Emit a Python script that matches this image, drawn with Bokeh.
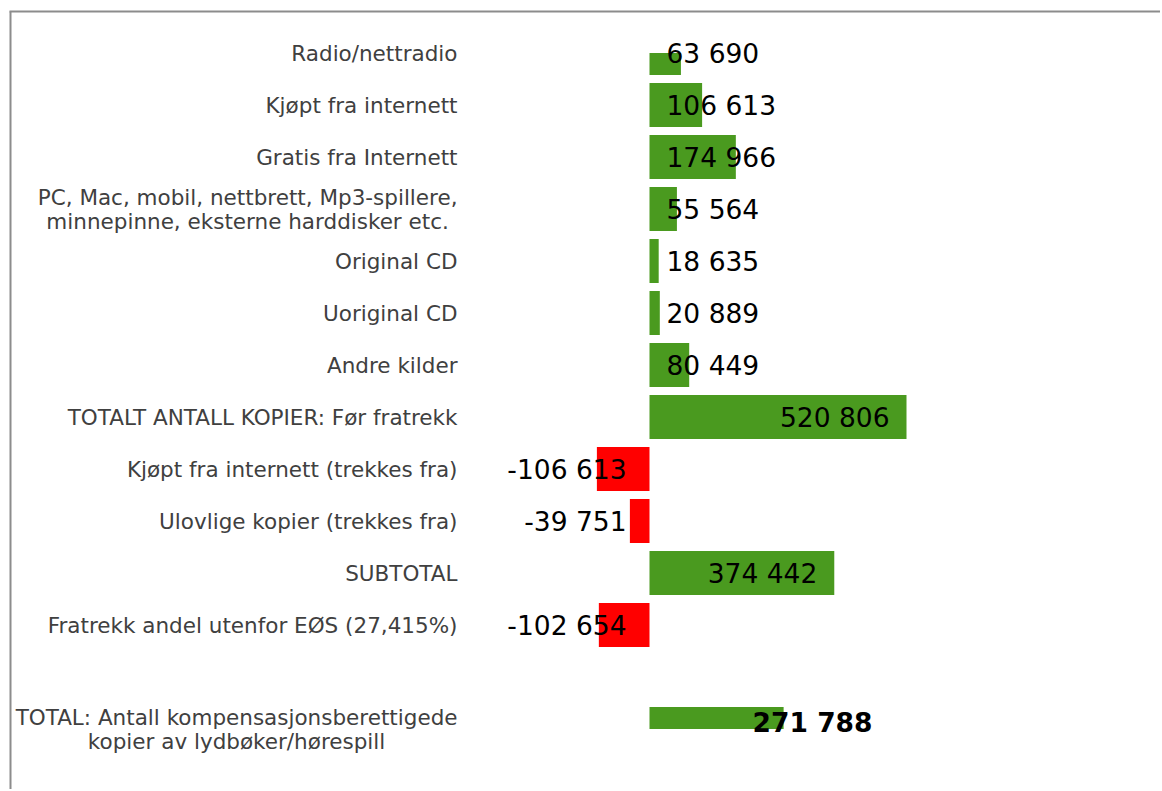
from bokeh.plotting import figure
from bokeh.models import ColumnDataSource, Range1d
from bokeh.core.properties import value
from bokeh.embed import file_html
from bokeh.resources import INLINE

# ---------------- data ----------------
categories = [
    "Radio/nettradio",
    "Kjøpt fra internett",
    "Gratis fra Internett",
    "PC, Mac, mobil, nettbrett, Mp3-spillere,\nminnepinne, eksterne harddisker etc.",
    "Original CD",
    "Uoriginal CD",
    "Andre kilder",
    "TOTALT ANTALL KOPIER: Før fratrekk",
    "Kjøpt fra internett (trekkes fra)",
    "Ulovlige kopier (trekkes fra)",
    "SUBTOTAL",
    "Fratrekk andel utenfor EØS (27,415%)",
    "TOTAL: Antall kompensasjonsberettigede\nkopier av lydbøker/hørespill",
]
values = [63690, 106613, 174966, 55564, 18635, 20889, 80449,
          520806, -106613, -39751, 374442, -102654, 271788]
value_labels = [f"{v:,}".replace(",", " ") for v in values]

# ---------------- layout ----------------
W, H = 1160, 789
ZERO_X = 649            # canvas px of value 0
PPU = 257 / 520806      # px per unit
ROW0 = 52.5             # canvas px of first row centre
PITCH = 52              # px per row
BAR_H = 0.846
GREEN = "#4a9a1f"
RED = "#ff0000"
FONT = "DejaVu Sans"

# rows: one empty slot before the final total
rows = list(range(len(categories) - 1)) + [len(categories)]
first_row, last_row = rows[0], rows[-1]

x_start, x_end = -ZERO_X / PPU, (W - ZERO_X) / PPU
y_top, y_bottom = -ROW0 / PITCH, (H - ROW0) / PITCH

p = figure(width=W, height=H, output_backend="svg", toolbar_location=None,
           x_range=Range1d(x_start, x_end),
           y_range=Range1d(y_bottom, y_top),
           x_axis_location=None, y_axis_location=None, min_border=0)
p.grid.visible = False
p.outline_line_color = None
p.background_fill_color = "white"
p.border_fill_color = "white"

# bars (plot area spans first to last category centre, so end bars are clipped)
lefts = [min(0, v) for v in values]
rights = [max(0, v) for v in values]
tops = [max(r - BAR_H / 2, first_row) for r in rows]
bottoms = [min(r + BAR_H / 2, last_row) for r in rows]
colors = [GREEN if v >= 0 else RED for v in values]
bars = ColumnDataSource(dict(left=lefts, right=rights, top=tops, bottom=bottoms, color=colors))
p.quad(left="left", right="right", top="top", bottom="bottom", source=bars,
       fill_color="color", line_color=None)

# category labels
cat_src = ColumnDataSource(dict(x=[0] * len(rows), y=rows, t=categories))
p.text(x="x", y="y", text="t", source=cat_src, x_offset=-192,
       anchor="center_right", text_align="center", text_baseline="middle",
       text_font=value(FONT), text_font_size="21.5px", text_color="#404040",
       text_line_height=0.96)

# value labels
FS = 26.5
PAD = 17
lx, loff, lyoff, lalign, lstyle = [], [], [], [], []
for i, v in enumerate(values):
    s = value_labels[i]
    est_w = FS * (0.636 * sum(c.isdigit() for c in s) + 0.318 * s.count(" ") + 0.838 * s.count("-"))
    if i == len(values) - 1:
        lx.append(v); loff.append(-31); lyoff.append(-6.5); lalign.append("left"); lstyle.append("bold")
    elif v < 0:
        lx.append(0); loff.append(-23); lyoff.append(0); lalign.append("right"); lstyle.append("normal")
    elif v * PPU - PAD - est_w >= PAD:
        lx.append(v); loff.append(-PAD); lyoff.append(0); lalign.append("right"); lstyle.append("normal")
    else:
        lx.append(0); loff.append(PAD); lyoff.append(0); lalign.append("left"); lstyle.append("normal")

val_src = ColumnDataSource(dict(x=lx, y=rows, t=value_labels, xo=loff, yo=lyoff,
                                align=lalign, style=lstyle))
p.text(x="x", y="y", text="t", source=val_src, x_offset="xo", y_offset="yo",
       text_align="align", text_baseline="middle", text_font_style="style",
       text_font=value(FONT), text_font_size=f"{FS}px", text_color="black")

# chart-area border (top and left edges, meeting at the corner)
bx = -(ZERO_X - 10) / PPU
by = -(ROW0 - 11) / PITCH
p.segment(x0=[bx - 1 / PPU, bx], y0=[by, by], x1=[x_end, bx], y1=[by, y_bottom],
          line_color="#8c8c8c", line_width=2)

open("out.html", "w").write(file_html(p, INLINE))
